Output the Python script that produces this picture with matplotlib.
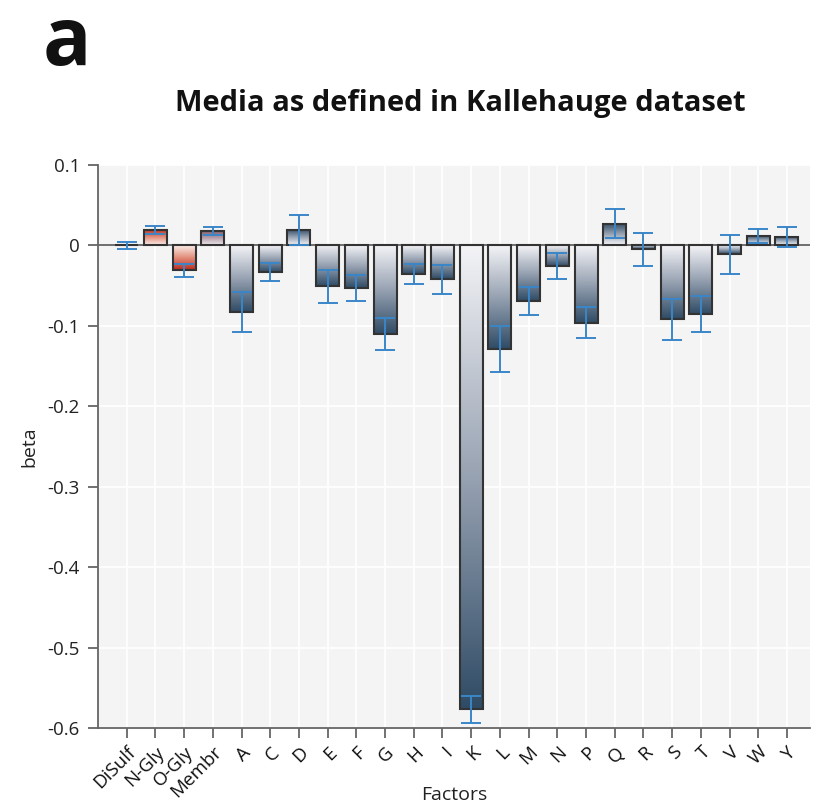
import numpy as np
import matplotlib
matplotlib.use("Agg")
import matplotlib.pyplot as plt
from matplotlib.colors import LinearSegmentedColormap

factors = ["DiSulf", "N-Gly", "O-Gly", "Membr", "A", "C", "D", "E", "F", "G",
           "H", "I", "K", "L", "M", "N", "P", "Q", "R", "S", "T", "V", "W", "Y"]
beta = [0.0, 0.019, -0.031, 0.018, -0.083, -0.033, 0.019, -0.051, -0.053, -0.110,
        -0.035, -0.042, -0.577, -0.129, -0.069, -0.026, -0.096, 0.027, -0.005, -0.092,
        -0.085, -0.011, 0.012, 0.010]
err = [0.004, 0.005, 0.008, 0.005, 0.025, 0.011, 0.019, 0.021, 0.016, 0.020,
       0.0125, 0.018, 0.017, 0.029, 0.017, 0.016, 0.019, 0.018, 0.021, 0.025,
       0.0225, 0.024, 0.009, 0.0125]
# colour group per factor
groups = ["blue", "red", "red", "mauve"] + ["blue"] * 20

cmaps = {
    "blue": LinearSegmentedColormap.from_list("b", ["#f4f4f7", "#97a2b2", "#2f4b65"]),
    "red": LinearSegmentedColormap.from_list("r", ["#fbeeea", "#e28e7c", "#bb2a1c"]),
    "mauve": LinearSegmentedColormap.from_list("m", ["#eeeaee", "#b39aa6", "#7d5666"]),
}

plt.rcParams['font.family'] = ['Open Sans', 'DejaVu Sans']

fig = plt.figure(figsize=(8.14, 8.06), dpi=100)
ax = fig.add_axes([0.1204, 0.0968, 0.8746, 0.6985])
ax.set_facecolor("#f4f4f4")

x = np.arange(len(factors))
w = 0.8
grad = np.linspace(0, 1, 256).reshape(-1, 1)

for xi, v, g in zip(x, beta, groups):
    if abs(v) < 1e-6:
        continue
    ax.imshow(grad, cmap=cmaps[g], origin="lower", aspect="auto",
              extent=(xi - w / 2, xi + w / 2, 0, v), zorder=2, interpolation="bilinear")

ax.bar(x, beta, width=w, fill=False, edgecolor="#333333", linewidth=1.5, zorder=3)
ax.errorbar(x, beta, yerr=err, fmt="none", ecolor="#3a86c8", elinewidth=1.4,
            capsize=7, capthick=1.4, zorder=4)
ax.axhline(0, color="#555555", linewidth=1.2, zorder=2.5)

ax.set_xlim(-1.0, 23.8)
ax.set_ylim(-0.6, 0.1)
ax.set_xticks(x)
ax.set_xticklabels(factors, rotation=45, ha="right", rotation_mode="anchor",
                   fontsize=13.5, color="#111111")
ax.set_yticks(np.arange(-0.6, 0.11, 0.1))
ax.set_yticklabels(["-0.6", "-0.5", "-0.4", "-0.3", "-0.2", "-0.1", "0", "0.1"],
                   fontsize=13.5, color="#222222")
ax.grid(True, color="white", linewidth=1.2, zorder=0)
ax.set_axisbelow(True)
for s in ["top", "right"]:
    ax.spines[s].set_visible(False)
for s in ["left", "bottom"]:
    ax.spines[s].set_color("#666666")
    ax.spines[s].set_linewidth(1.3)
ax.tick_params(axis="both", direction="out", length=7, width=1.3, color="#666666")
ax.tick_params(axis="x", pad=4)
ax.tick_params(axis="y", pad=6)

ax.set_ylabel("beta", fontsize=14, color="#222222")
ax.yaxis.set_label_coords(-0.084, 0.5)
ax.set_xlabel("Factors", fontsize=14, color="#222222", va="center")
ax.xaxis.set_label_coords(0.5, -0.119)

fig.text(0.565, 0.872, "Media as defined in Kallehauge dataset", fontsize=21,
         fontweight="bold", ha="center", va="center", color="#111111")
fig.text(0.052, 0.945, "a", fontsize=58, fontweight="bold", ha="left", va="center",
         color="#111111")

fig.savefig("out.png", dpi=100)
